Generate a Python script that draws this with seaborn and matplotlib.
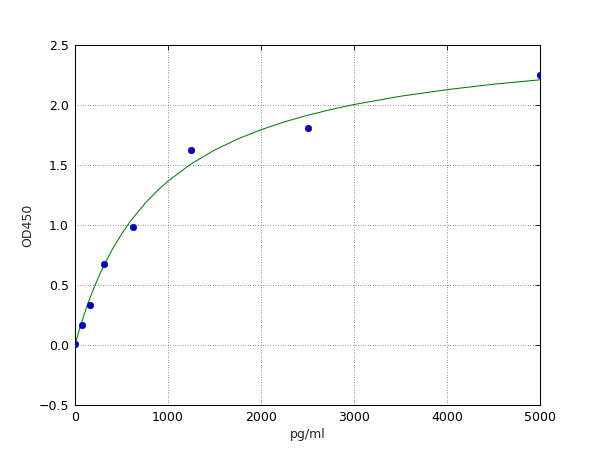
import matplotlib
matplotlib.use("Agg")
import matplotlib.pyplot as plt
import seaborn as sns
import pandas as pd

# Measured standard points
conc = [0, 78.125, 156.25, 312.5, 625, 1250, 2500, 5000]
od = [0.01, 0.17, 0.336, 0.675, 0.986, 1.625, 1.806, 2.25]

# Fitted curve
curve_x = [0, 25, 50, 75, 100, 150, 200, 250, 300, 400, 500, 600, 750, 900, 1000, 1250, 1500,
           1750, 2000, 2250, 2500, 2750, 3000, 3500, 4000, 4500, 5000]
curve_y = [0.0, 0.070, 0.136, 0.198, 0.258, 0.369, 0.469, 0.560, 0.646, 0.796, 0.924, 1.036,
           1.178, 1.297, 1.366, 1.510, 1.624, 1.717, 1.794, 1.859, 1.914, 1.962, 2.004, 2.073,
           2.128, 2.173, 2.210]

x_ticks = [0, 1000, 2000, 3000, 4000, 5000]
y_ticks = [-0.5, 0.0, 0.5, 1.0, 1.5, 2.0, 2.5]

sns.set_style("white")
plt.rcParams['font.family'] = ['DejaVu Sans']

fig = plt.figure(figsize=(8, 6), dpi=75)
ax = fig.add_axes([0.125, 0.1, 0.775, 0.8])

pts = pd.DataFrame({"x": conc, "y": od})
cur = pd.DataFrame({"x": curve_x, "y": curve_y})

sns.lineplot(data=cur, x="x", y="y", ax=ax, color=(0, 0.5, 0), linewidth=1.0, zorder=2)
sns.scatterplot(data=pts, x="x", y="y", ax=ax, color=(0, 0, 0.8), s=40,
                edgecolor=(0, 0, 0.5), linewidth=0.5, zorder=3)

ax.set_xlim(0, 5000)
ax.set_ylim(-0.5, 2.5)
ax.set_xticks(x_ticks)
ax.set_yticks(y_ticks)
ax.set_xticklabels([str(t) for t in x_ticks])
ax.set_yticklabels([("\u2212" if t < 0 else "") + f"{abs(t):.1f}" for t in y_ticks])
ax.set_xlabel("pg/ml", fontsize=12)
ax.set_ylabel("OD450", fontsize=12)
ax.tick_params(direction="in", length=5, width=0.8, labelsize=12, top=True, right=True,
               colors="black", pad=6)
ax.grid(True, linestyle=(0, (1, 3)), color="black", linewidth=0.6)
for s in ax.spines.values():
    s.set_color("black")
    s.set_linewidth(1.0)
ax.set_axisbelow(True)

fig.savefig("out.png", dpi=75, facecolor="white")
